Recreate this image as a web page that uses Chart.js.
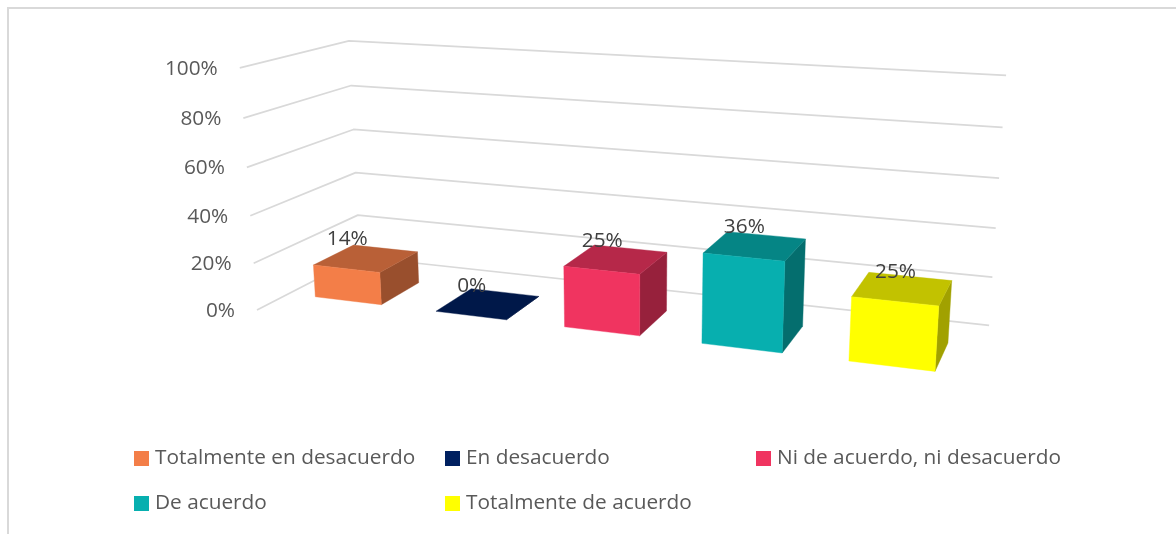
<!DOCTYPE html>
<html><head><meta charset="utf-8">
<style>html,body{margin:0;padding:0;background:#fff}#w{position:relative;width:1176px;height:534px}canvas{display:block}</style>
<script src="https://cdn.jsdelivr.net/npm/chart.js@4"></script>
</head><body><div id="w"><canvas id="c" width="1176" height="534"></canvas></div>
<script>
const categories = ['Totalmente en desacuerdo','En desacuerdo','Ni de acuerdo, ni desacuerdo','De acuerdo','Totalmente de acuerdo'];
const values = [14,0,25,36,25];
const barColors = ['#F37E48','#002060','#F03460','#07AFAF','#FFFF00'];
const tickValues = [0,20,40,60,80,100];
const tickLabels = ['0%','20%','40%','60%','80%','100%'];

const FONT = '"Open Sans", sans-serif';
// perspective camera of the 3D plot (screen-space)
const O = [257,310], VU = [-3477,-160], VV = [632,5582], VD = [1178,-164];
const AU = -0.1586, AV = -0.0439, AD = 0.1259;
const D_FRONT = 0.285, D_BACK = 0.68;

function project(u,v,d){
  const w = 1 + u*AU + v*AV + d*AD;
  return [
    (O[0] + u*AU*VU[0] + v*AV*VV[0] + d*AD*VD[0]) / w,
    (O[1] + u*AU*VU[1] + v*AV*VV[1] + d*AD*VD[1]) / w
  ];
}
function shade(hex,f){
  const n = parseInt(hex.slice(1),16);
  const c = [(n>>16)&255,(n>>8)&255,n&255].map(x=>Math.round(x*f));
  return `rgb(${c[0]},${c[1]},${c[2]})`;
}
function poly(ctx,pts,color){
  ctx.beginPath();
  pts.forEach((p,i)=> i?ctx.lineTo(p[0],p[1]):ctx.moveTo(p[0],p[1]));
  ctx.closePath();
  ctx.fillStyle=color; ctx.fill();
  ctx.strokeStyle=color; ctx.lineWidth=0.4; ctx.stroke();
}

const plot3d = {
  id:'plot3d',
  beforeDatasetsDraw(chart){
    const ctx=chart.ctx, y=chart.scales.y;
    const vOf = val => (y.bottom - y.getPixelForValue(val))/y.height;
    ctx.save();
    // frame
    ctx.strokeStyle='#d9d9d9'; ctx.lineWidth=2;
    ctx.beginPath(); ctx.moveTo(8,534); ctx.lineTo(8,8); ctx.lineTo(1176,8); ctx.stroke();
    // walls
    ctx.strokeStyle='#d9d9d9'; ctx.lineWidth=1.7; ctx.lineJoin='round';
    tickValues.forEach(t=>{
      const v=vOf(t), a=project(0,v,0), b=project(0,v,1), c=project(1,v,1);
      ctx.beginPath(); ctx.moveTo(a[0],a[1]); ctx.lineTo(b[0],b[1]); ctx.lineTo(c[0],c[1]); ctx.stroke();
    });
    // tick labels
    ctx.font='20.8px '+FONT; ctx.fillStyle='#595959'; ctx.textAlign='right'; ctx.textBaseline='middle';
    tickValues.forEach((t,i)=>{
      const a=project(0,vOf(t),0);
      ctx.fillText(tickLabels[i],a[0]-22,a[1]+1);
    });
    // legend
    const cols=[134,445,756], rows=[458,503];
    const place=[[0,0],[1,0],[2,0],[0,1],[1,1]];
    ctx.textAlign='left';
    categories.forEach((name,i)=>{
      const x=cols[place[i][0]], yy=rows[place[i][1]];
      ctx.fillStyle=barColors[i]; ctx.fillRect(x,yy-7,15,15);
      ctx.fillStyle='#595959'; ctx.fillText(name,x+21,yy);
    });
    ctx.restore();
  },
  beforeDatasetDraw(chart,args){
    const ctx=chart.ctx, xs=chart.scales.x, y=chart.scales.y;
    const meta=args.meta;
    ctx.save();
    meta.data.forEach((el,i)=>{
      const props=el.getProps(['x','y','base','width'],true);
      const u0=(props.x-props.width/2-xs.left)/xs.width+0.001, u1=(props.x+props.width/2-xs.left)/xs.width+0.001;
      const v=(y.bottom-props.y)/y.height;
      const col=barColors[i];
      const fb0=project(u0,0,D_FRONT), fb1=project(u1,0,D_FRONT), bb1=project(u1,0,D_BACK);
      const ft0=project(u0,v,D_FRONT), ft1=project(u1,v,D_FRONT), bt0=project(u0,v,D_BACK), bt1=project(u1,v,D_BACK);
      poly(ctx,[ft1,bt1,bb1,fb1],shade(col,0.63));
      poly(ctx,[ft0,ft1,bt1,bt0],shade(col,0.76));
      if(v>0) poly(ctx,[ft0,ft1,fb1,fb0],col);
    });
    ctx.font='20.8px '+FONT; ctx.fillStyle='#404040'; ctx.textAlign='center'; ctx.textBaseline='middle';
    meta.data.forEach((el,i)=>{
      const props=el.getProps(['x','y'],true);
      const a=project((props.x-xs.left)/xs.width,(y.bottom-props.y)/y.height,D_FRONT);
      ctx.fillText(values[i]+'%',a[0]+1.5,a[1]-29.5);
    });
    ctx.restore();
    return false;
  }
};

new Chart(document.getElementById('c'),{
  type:'bar',
  data:{labels:categories,datasets:[{data:values,backgroundColor:barColors,categoryPercentage:0.555,barPercentage:1}]},
  options:{
    responsive:false,animation:false,
    layout:{padding:0},
    plugins:{legend:{display:false},tooltip:{enabled:false},title:{display:false}},
    scales:{
      x:{display:false,offset:true},
      y:{display:false,min:0,max:100,ticks:{stepSize:20}}
    }
  },
  plugins:[plot3d]
});
</script></body></html>
